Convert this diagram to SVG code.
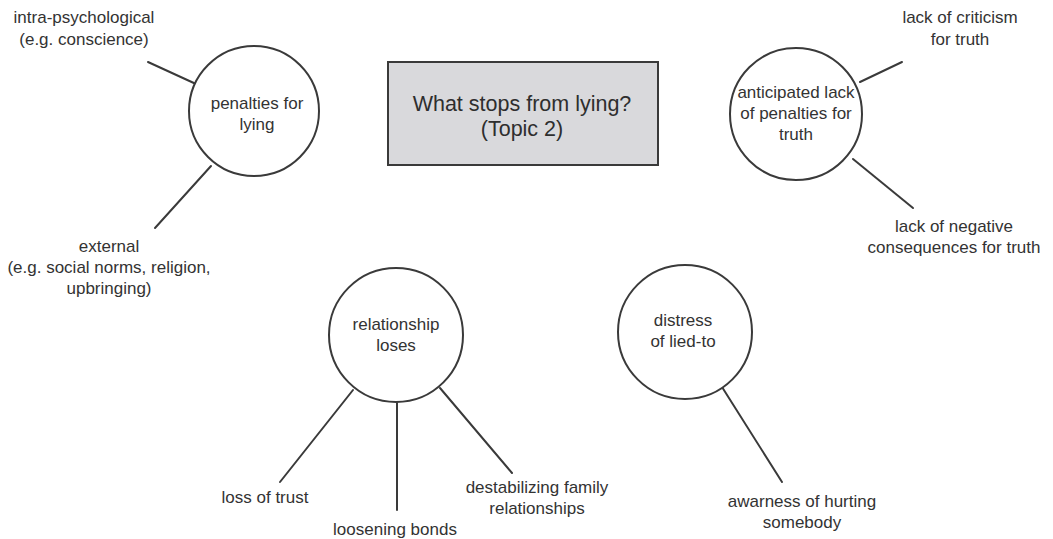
<svg xmlns="http://www.w3.org/2000/svg" width="1053" height="539" viewBox="0 0 1053 539">
<style>
  .node circle { fill: #ffffff; stroke: #3a3a3a; stroke-width: 2; }
  .lbl { font-family: "Liberation Sans", Arial, sans-serif; font-size: 17px; fill: #333333; text-anchor: middle; }
  .title { font-family: "Liberation Sans", Arial, sans-serif; font-size: 21.5px; fill: #2e2e2e; text-anchor: middle; }
  #connectors line { stroke: #3a3a3a; stroke-width: 2; stroke-linecap: round; }
</style>
<rect width="1053" height="539" fill="#ffffff"/>
<g id="connectors">
  <line x1="148" y1="62" x2="196" y2="84"/>
  <line x1="211" y1="166" x2="155" y2="228"/>
  <line x1="860" y1="82" x2="902" y2="62"/>
  <line x1="853" y1="159" x2="913" y2="208"/>
  <line x1="353" y1="390" x2="280" y2="482"/>
  <line x1="397" y1="403" x2="397" y2="510"/>
  <line x1="440" y1="388" x2="512" y2="473"/>
  <line x1="722" y1="387" x2="782" y2="482"/>
</g>
<g id="topic">
  <rect x="388" y="62" width="270" height="103" fill="#d9d9dc" stroke="#3a3a3a" stroke-width="2"/>
  <text class="title" x="522" y="111">What stops from lying?</text>
  <text class="title" x="522" y="136">(Topic 2)</text>
</g>
<g id="penalties" class="node">
  <circle cx="254" cy="111" r="65"/>
  <text class="lbl" x="257" y="109">penalties for</text>
  <text class="lbl" x="257" y="130">lying</text>
</g>
<g id="anticipated" class="node">
  <circle cx="796" cy="114" r="66"/>
  <text class="lbl" x="796" y="98">anticipated lack</text>
  <text class="lbl" x="796" y="119">of penalties for</text>
  <text class="lbl" x="796" y="140">truth</text>
</g>
<g id="relationship" class="node">
  <circle cx="396" cy="335" r="67"/>
  <text class="lbl" x="396" y="330">relationship</text>
  <text class="lbl" x="396" y="351">loses</text>
</g>
<g id="distress" class="node">
  <circle cx="685" cy="332" r="67"/>
  <text class="lbl" x="683" y="326">distress</text>
  <text class="lbl" x="683" y="347">of lied-to</text>
</g>
<g id="intra">
  <text class="lbl" x="84" y="23">intra-psychological</text>
  <text class="lbl" x="84" y="45">(e.g. conscience)</text>
</g>
<g id="external">
  <text class="lbl" x="109" y="252">external</text>
  <text class="lbl" x="109" y="273">(e.g. social norms, religion,</text>
  <text class="lbl" x="109" y="294">upbringing)</text>
</g>
<g id="criticism">
  <text class="lbl" x="960" y="23">lack of criticism</text>
  <text class="lbl" x="960" y="45">for truth</text>
</g>
<g id="negative">
  <text class="lbl" x="954" y="232">lack of negative</text>
  <text class="lbl" x="954" y="253">consequences for truth</text>
</g>
<g id="trust">
  <text class="lbl" x="265" y="503">loss of trust</text>
</g>
<g id="bonds">
  <text class="lbl" x="395" y="535">loosening bonds</text>
</g>
<g id="family">
  <text class="lbl" x="537" y="493">destabilizing family</text>
  <text class="lbl" x="537" y="514">relationships</text>
</g>
<g id="hurting">
  <text class="lbl" x="802" y="507">awarness of hurting</text>
  <text class="lbl" x="802" y="528">somebody</text>
</g>
</svg>
